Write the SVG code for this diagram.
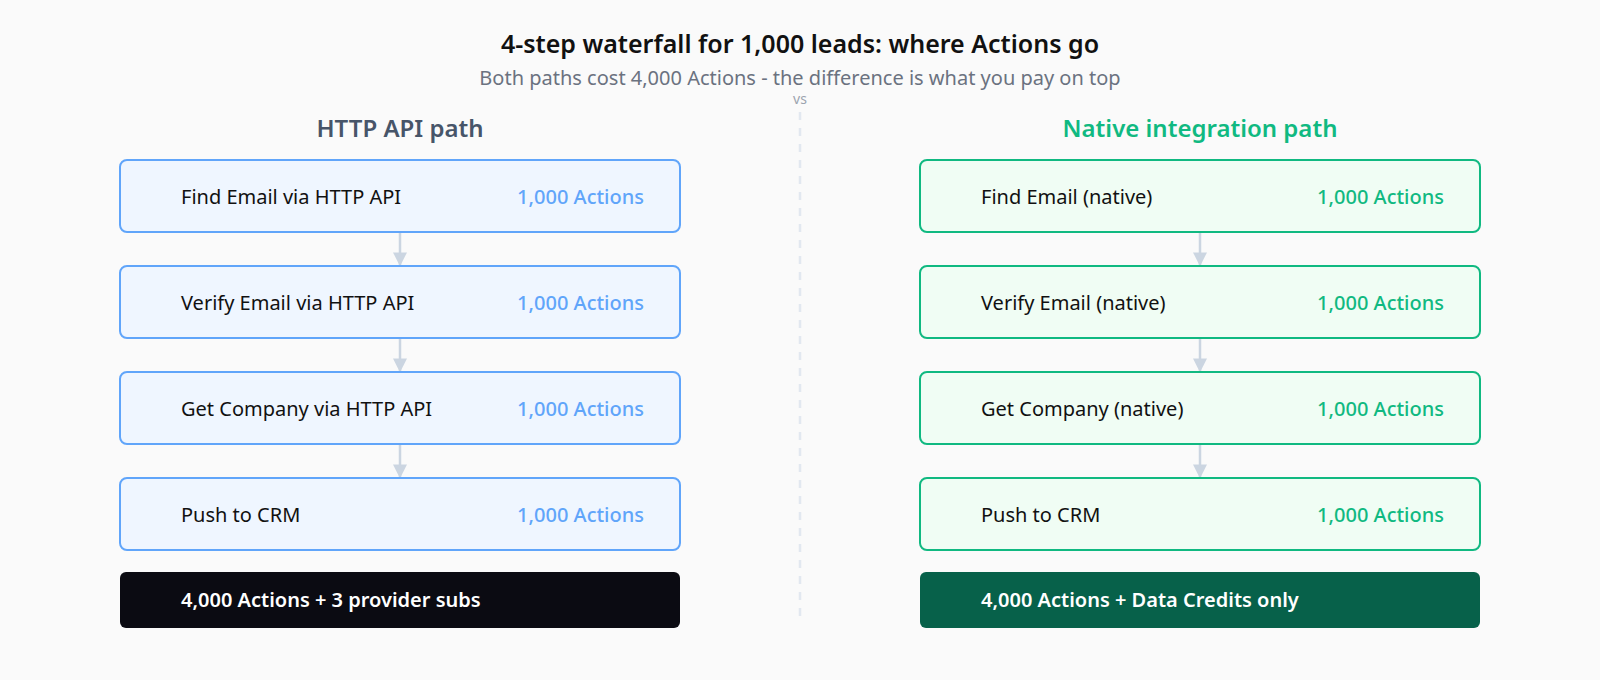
<svg xmlns="http://www.w3.org/2000/svg" width="1600" height="680" viewBox="0 0 1600 680">
<defs>
<style>
text{font-family:"Noto Sans","Open Sans",sans-serif}
.t{font-size:25px;font-weight:600;fill:#111;text-anchor:middle}
.s{font-size:20px;fill:#6b7280;text-anchor:middle}
.h{font-size:24px;font-weight:600;text-anchor:middle}
.b{stroke-width:2}
.blue{fill:#eff6ff;stroke:#60a5fa}
.green{fill:#f0fdf4;stroke:#10b981}
.l{font-size:20px;fill:#111}
.n{font-size:20px;font-weight:500;text-anchor:end}
.sum{font-size:20px;font-weight:600;fill:#fff}
.c{stroke:#cbd5e1;stroke-width:2.5;fill:none}
</style>
<marker id="ar" viewBox="0 0 10 10" refX="9" refY="5" markerWidth="14" markerHeight="14" markerUnits="userSpaceOnUse" orient="auto"><path d="M0 0L10 5L0 10Z" fill="#cbd5e1"/></marker>
</defs>
<rect width="1600" height="680" fill="#fafafa"/>
<text class="t" x="800" y="53">4-step waterfall for 1,000 leads: where Actions go</text>
<text class="s" x="800" y="85">Both paths cost 4,000 Actions - the difference is what you pay on top</text>
<text x="800" y="104" font-size="14" fill="#9ca3af" text-anchor="middle">vs</text>
<line x1="800" y1="112" x2="800" y2="622" stroke="#e2e8f0" stroke-width="2.5" stroke-dasharray="8 8"/>
<text class="h" x="400" y="137" fill="#475569">HTTP API path</text>
<text class="h" x="1200" y="137" fill="#10b981">Native integration path</text>
<g id="connectors">
<path class="c" d="M400 233V265" marker-end="url(#ar)"/>
<path class="c" d="M400 339V371" marker-end="url(#ar)"/>
<path class="c" d="M400 445V477" marker-end="url(#ar)"/>
<path class="c" d="M1200 233V265" marker-end="url(#ar)"/>
<path class="c" d="M1200 339V371" marker-end="url(#ar)"/>
<path class="c" d="M1200 445V477" marker-end="url(#ar)"/>
</g>
<g id="h1"><rect class="b blue" x="120" y="160" width="560" height="72" rx="7"/><text class="l" x="181" y="204">Find Email via HTTP API</text><text class="n" x="644" y="204" fill="#60a5fa">1,000 Actions</text></g>
<g id="h2"><rect class="b blue" x="120" y="266" width="560" height="72" rx="7"/><text class="l" x="181" y="310">Verify Email via HTTP API</text><text class="n" x="644" y="310" fill="#60a5fa">1,000 Actions</text></g>
<g id="h3"><rect class="b blue" x="120" y="372" width="560" height="72" rx="7"/><text class="l" x="181" y="416">Get Company via HTTP API</text><text class="n" x="644" y="416" fill="#60a5fa">1,000 Actions</text></g>
<g id="h4"><rect class="b blue" x="120" y="478" width="560" height="72" rx="7"/><text class="l" x="181" y="522">Push to CRM</text><text class="n" x="644" y="522" fill="#60a5fa">1,000 Actions</text></g>
<g id="hsum"><rect x="120" y="572" width="560" height="56" rx="6" fill="#0b0b12"/><text class="sum" x="181" y="607">4,000 Actions + 3 provider subs</text></g>
<g id="n1"><rect class="b green" x="920" y="160" width="560" height="72" rx="7"/><text class="l" x="981" y="204">Find Email (native)</text><text class="n" x="1444" y="204" fill="#10b981">1,000 Actions</text></g>
<g id="n2"><rect class="b green" x="920" y="266" width="560" height="72" rx="7"/><text class="l" x="981" y="310">Verify Email (native)</text><text class="n" x="1444" y="310" fill="#10b981">1,000 Actions</text></g>
<g id="n3"><rect class="b green" x="920" y="372" width="560" height="72" rx="7"/><text class="l" x="981" y="416">Get Company (native)</text><text class="n" x="1444" y="416" fill="#10b981">1,000 Actions</text></g>
<g id="n4"><rect class="b green" x="920" y="478" width="560" height="72" rx="7"/><text class="l" x="981" y="522">Push to CRM</text><text class="n" x="1444" y="522" fill="#10b981">1,000 Actions</text></g>
<g id="nsum"><rect x="920" y="572" width="560" height="56" rx="6" fill="#07614a"/><text class="sum" x="981" y="607">4,000 Actions + Data Credits only</text></g>
</svg>
